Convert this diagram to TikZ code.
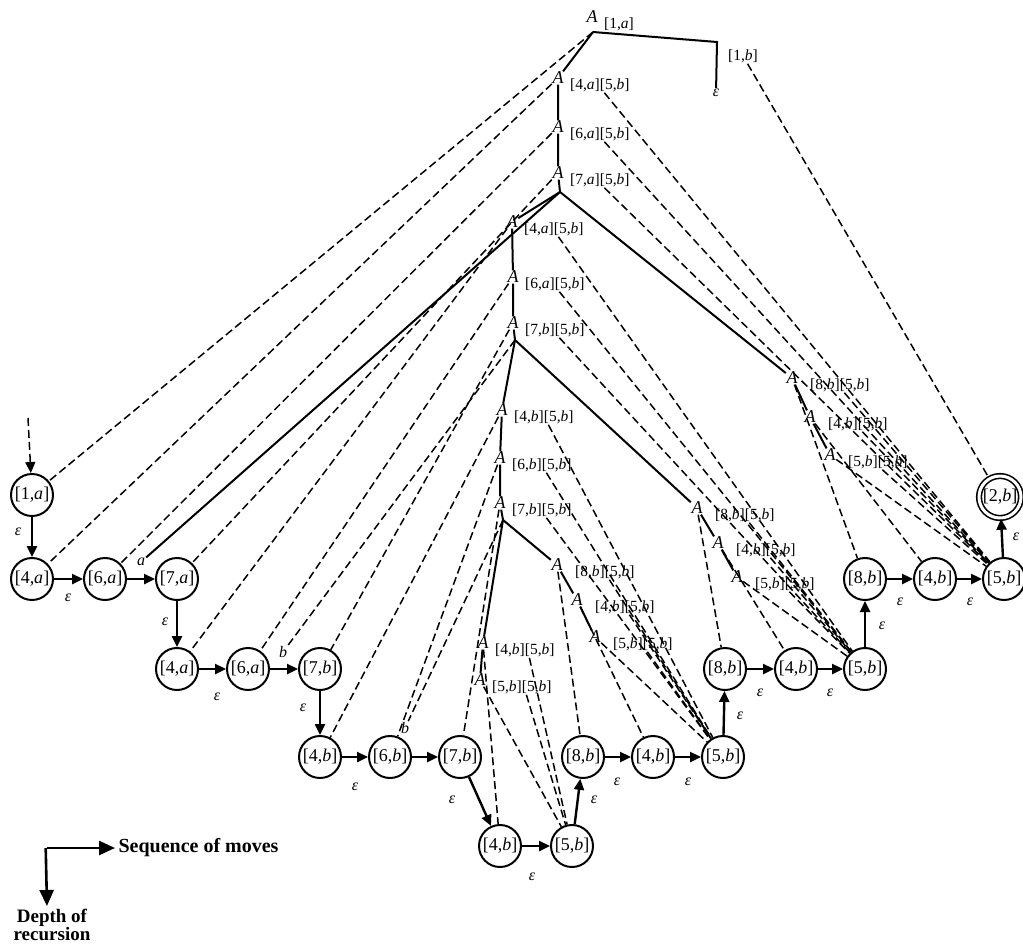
\documentclass[tikz,border=0pt]{standalone}
\usepackage{fontspec}
\setmainfont{Liberation Serif}
\usetikzlibrary{arrows.meta,positioning,calc}
\newcommand{\qs}[2]{[#1,\textit{#2}]}

\begin{document}
\begin{tikzpicture}[x=1pt,y=-1pt,
  st/.style={circle,draw,line width=2pt,minimum size=42pt,inner sep=0pt,font=\fontsize{18}{19}\selectfont},
  fin/.style={double,double distance=3pt,line width=1.6pt},
  mv/.style={line width=2.4pt,-{Triangle[length=11pt,width=10pt]}},
  lbl/.style={font=\fontsize{16}{17}\selectfont\itshape,inner sep=1pt},
  call/.style={font=\fontsize{18}{19}\selectfont\itshape,inner sep=0.5pt},
  pr/.style={font=\fontsize{15.5}{16}\selectfont,inner sep=1pt,anchor=west},
  tree/.style={line width=2pt},
  lk/.style={line width=1.5pt,dash pattern=on 8pt off 4pt}]
\useasboundingbox (0,0) rectangle (1023,951);

% states, row by row
\node[st] (s1a) at (32,495) {\qs{1}{a}};
\foreach \n/\x/\y/\p/\s in {
  q4a1/32/579/4/a, q6a1/105/579/6/a, q7a1/177/579/7/a,
  q8b1/865/579/8/b, q4b1/935/579/4/b, q5b1/1004/579/5/b,
  q4a2/177/669/4/a, q6a2/248/669/6/a, q7b2/320/669/7/b,
  q8b2/725/669/8/b, q4b2/796/669/4/b, q5b2/865/669/5/b,
  q4b3/320/757/4/b, q6b3/390/757/6/b, q7b3/460/757/7/b,
  q8b3/583/757/8/b, q4b3r/653/757/4/b, q5b3/723/757/5/b,
  q4b4/500/846/4/b, q5b4/572/846/5/b}
  \node[st] (\n) at (\x,\y) {\qs{\p}{\s}};
\node[st,fin] (q2b) at (1000,497) {\qs{2}{b}};

% moves
\foreach \a/\b in {s1a/q4a1, q4a1/q6a1, q6a1/q7a1, q7a1/q4a2, q4a2/q6a2,
  q6a2/q7b2, q7b2/q4b3, q4b3/q6b3, q6b3/q7b3, q7b3/q4b4, q4b4/q5b4,
  q5b4/q8b3, q8b3/q4b3r, q4b3r/q5b3, q5b3/q8b2, q8b2/q4b2, q4b2/q5b2,
  q5b2/q8b1, q8b1/q4b1, q4b1/q5b1, q5b1/q2b}
  \draw[mv] (\a) -- (\b);
\foreach \x/\y in {18/532, 68/598, 165/622, 217/697, 303/708, 355/787,
  452/800, 532/877, 594/800, 617/782, 688/782, 740/716, 760/693, 830/693,
  882/626, 900/602, 970/602, 1016/537}
  \node[lbl] (eps\x) at (\x,\y) {ε};
\node[lbl] (ta1) at (141,562) {a};
\node[lbl] (tb2) at (283,652) {b};
\node[lbl] (tb3) at (405,728) {b};
\coordinate (in) at (28,418);
\draw[lk,-{Triangle[length=11pt,width=10pt]}] (in) -- (s1a);

% recursion tree
\node[call] (a0) at (592,17) {A};
\node[pr] (a0-t) at (603,24) {\qs{1}{a}};
\coordinate (ap0) at (593,32);
\coordinate (a0b) at (717,42);
\node[pr] (a0b-t) at (727,56) {\qs{1}{b}};
\node[lbl] (e0) at (716,93) {ε};
\draw[tree] (ap0) -- (a0b) -- (e0);

\foreach \n/\x/\y/\p/\s/\d in {
  g1a/558/78/4/a/11, g1b/558/127/6/a/11, g1c/558/173/7/a/11,
  g2a/512/222/4/a/11, g2b/513/277/6/a/11, g2c/513/323/7/b/11,
  g3a/502/410/4/b/11, g3b/500/458/6/b/11, g3c/500/503/7/b/11,
  g4a/483/643/4/b/11, g4b/480/680/5/b/11,
  rt1a/792/378/8/b/17, rt1b/810/417/4/b/17, rt1c/830/455/5/b/17,
  rt2a/697/508/8/b/17, rt2b/718/543/4/b/17, rt2c/737/577/5/b/17,
  rt3a/557/565/8/b/17, rt3b/577/600/4/b/17, rt3c/595/637/5/b/17} {
  \node[call] (\n) at (\x,\y) {A};
  \node[pr] (\n-t) at (\x+\d,\y+7) {\qs{\p}{\s}\qs{5}{b}};
}
\coordinate (ap1) at (560,192);
\coordinate (ap2) at (515,340);
\coordinate (ap3) at (503,520);

\draw[tree] (ap0) -- (g1a) -- (g1b) -- (g1c) -- (ap1);
\draw[tree] (ap1) -- (g2a) -- (g2b) -- (g2c) -- (ap2);
\draw[tree] (ap2) -- (g3a) -- (g3b) -- (g3c) -- (ap3);
\draw[tree] (ap3) -- (g4a) -- (g4b);
\draw[tree] (ap1) -- (rt1a) -- (rt1b) -- (rt1c);
\draw[tree] (ap2) -- (rt2a) -- (rt2b) -- (rt2c);
\draw[tree] (ap3) -- (rt3a) -- (rt3b) -- (rt3c);
\draw[tree] (ap1) -- (ta1);

% links from calls to states
\draw[lk] (ap0) -- (s1a);
\draw[lk] (a0b-t) -- (q2b);
\draw[lk] (ap2) -- (tb2);
\draw[lk] (ap3) -- (tb3);
\foreach \c/\q/\e in {
  g1a/q4a1/q5b1, g1b/q6a1/q5b1, g1c/q7a1/q5b1,
  rt1a/q8b1/q5b1, rt1b/q4b1/q5b1, rt1c/q5b1/q5b1,
  g2a/q4a2/q5b2, g2b/q6a2/q5b2, g2c/q7b2/q5b2,
  rt2a/q8b2/q5b2, rt2b/q4b2/q5b2, rt2c/q5b2/q5b2,
  g3a/q4b3/q5b3, g3b/q6b3/q5b3, g3c/q7b3/q5b3,
  rt3a/q8b3/q5b3, rt3b/q4b3r/q5b3, rt3c/q5b3/q5b3,
  g4a/q4b4/q5b4, g4b/q5b4/q5b4} {
  \draw[lk] (\c) -- (\q);
  \draw[lk] (\c-t.-60) -- (\e);
}

% legend
\coordinate (lg) at (47,848);
\node[font=\fontsize{20}{22}\selectfont\bfseries,anchor=west] (seq) at (115,848) {Sequence of moves};
\node[font=\fontsize{19}{18}\selectfont\bfseries,align=center,anchor=north] (dep) at (52,906) {Depth of\\recursion};
\draw[line width=2.6pt,-{Triangle[length=16pt,width=14pt]}] (lg) -- (seq.west);
\draw[line width=2.6pt,-{Triangle[length=16pt,width=14pt]}] ([xshift=-1.3pt]lg) -- (lg |- dep.north);
\end{tikzpicture}
\end{document}
